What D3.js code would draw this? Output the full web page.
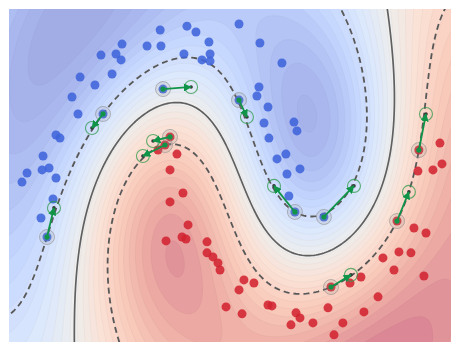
<!DOCTYPE html>
<html><head><meta charset="utf-8">
<script src="https://cdn.jsdelivr.net/npm/d3@7"></script>
<style>body{margin:0;background:#fff}svg{display:block}</style>
</head><body><div id="chart"></div>
<script>
// ---------- data (data units) ----------
const xDomain = [-1.156, 2.078];
const yDomain = [-0.617, 1.109];

const bluePoints = [
[-0.05,1.00],[0.146,1.02],[0.212,0.99],[0.307,0.938],[-0.146,0.917],[-0.044,0.917],
[-0.329,0.927],[-0.483,0.870],[-0.373,0.876],[-0.336,0.845],[0.124,0.876],[0.315,0.876],
[0.256,0.845],[0.315,0.839],[-0.636,0.756],[-0.402,0.772],[-0.527,0.715],[-0.695,0.653],
[-0.651,0.565],[-0.812,0.456],[-0.783,0.440],[-0.907,0.347],[-0.914,0.275],[-0.863,0.285],
[-1.024,0.259],[-1.061,0.212],[-0.812,0.233],[-0.834,0.124],[-0.922,0.026],[0.527,1.031],
[0.680,0.933],[0.841,0.829],[0.673,0.705],[0.658,0.658],[0.739,0.601],[0.710,0.518],
[0.929,0.523],[0.951,0.477],[0.746,0.440],[0.870,0.357],[0.805,0.332],[0.973,0.280],
[0.878,0.254],[0.892,0.140],
[-0.029,0.694],[-0.468,0.565],[0.527,0.637],[0.936,0.057],[1.148,0.031],[-0.878,-0.073]
];
const redPoints = [
[0.022,0.446],[-0.015,0.404],[-0.066,0.378],[0.073,0.357],[0.022,0.275],[0.117,0.155],
[0.022,0.109],[0.154,-0.010],[-0.007,-0.093],[0.110,-0.073],[0.139,-0.083],[0.293,-0.098],
[0.293,-0.155],[0.336,-0.176],[0.373,-0.207],[0.388,-0.244],[0.432,-0.435],[0.563,-0.295],
[0.636,-0.311],[0.527,-0.347],[0.549,-0.471],[0.739,-0.425],[0.768,-0.430],[0.944,-0.466],
[0.973,-0.492],[0.907,-0.528],[1.068,-0.518],[1.178,-0.440],[1.287,-0.518],[1.222,-0.580],
[1.441,-0.461],[1.544,-0.383],[1.339,-0.311],[1.419,-0.280],[1.200,-0.332],[1.580,-0.181],
[1.661,-0.244],[1.697,-0.150],[1.785,-0.155],[1.880,-0.275],[1.807,-0.026],[1.895,-0.052],
[1.683,0.010],[1.836,0.269],[1.946,0.275],[2.012,0.306],[1.997,0.414],[1.843,0.378]
];
// arrows: origin (highlighted point) -> target
const arrowFrom = [
[-0.029,0.694],[-0.468,0.565],[0.022,0.446],[-0.015,0.404],[0.527,0.637],[0.936,0.057],
[1.148,0.031],[1.843,0.378],[1.683,0.010],[-0.878,-0.073],[1.200,-0.332]
];
const arrowTo = [
[0.176,0.705],[-0.549,0.492],[-0.102,0.425],[-0.176,0.347],[0.585,0.549],[0.783,0.192],
[1.368,0.192],[1.895,0.565],[1.770,0.161],[-0.827,0.078],[1.346,-0.269]
];
const svmC = 10, svmGamma = 1.0;
const nLevels = 32;

// ---------- layout ----------
const W = 451, H = 343;
const plot = {x:9, y:9, w:442, h:333};
const xScale = d3.scaleLinear().domain(xDomain).range([plot.x, plot.x+plot.w]);
const yScale = d3.scaleLinear().domain(yDomain).range([plot.y+plot.h, plot.y]);

// ---------- SVM (SMO) ----------
const X = bluePoints.concat(redPoints);
const Y = bluePoints.map(()=>-1).concat(redPoints.map(()=>1));
function kern(a,b){const dx=a[0]-b[0],dy=a[1]-b[1];return Math.exp(-svmGamma*(dx*dx+dy*dy));}
function train(){
  const n=X.length, K=[];
  for(let i=0;i<n;i++){K.push(new Float64Array(n));for(let j=0;j<n;j++)K[i][j]=kern(X[i],X[j]);}
  const a=new Float64Array(n), G=new Float64Array(n).fill(-1), C=svmC;
  for(let it=0;it<200000;it++){
    let Gmax=-Infinity,Gmin=Infinity,i=-1,j=-1;
    for(let t=0;t<n;t++){
      const v=-Y[t]*G[t];
      if((Y[t]===1&&a[t]<C)||(Y[t]===-1&&a[t]>0)){if(v>Gmax){Gmax=v;i=t;}}
      if((Y[t]===-1&&a[t]<C)||(Y[t]===1&&a[t]>0)){if(v<Gmin){Gmin=v;j=t;}}
    }
    if(Gmax-Gmin<1e-5)break;
    const Qij=Y[i]*Y[j]*K[i][j], oi=a[i], oj=a[j];
    if(Y[i]!==Y[j]){
      let q=2+2*Qij; if(q<=0)q=1e-12;
      const d=(-G[i]-G[j])/q, diff=a[i]-a[j];
      a[i]+=d;a[j]+=d;
      if(diff>0){if(a[j]<0){a[j]=0;a[i]=diff;}}else{if(a[i]<0){a[i]=0;a[j]=-diff;}}
      if(diff>0){if(a[i]>C){a[i]=C;a[j]=C-diff;}}else{if(a[j]>C){a[j]=C;a[i]=C+diff;}}
    }else{
      let q=2-2*Qij; if(q<=0)q=1e-12;
      const d=(G[i]-G[j])/q, s=a[i]+a[j];
      a[i]-=d;a[j]+=d;
      if(s>C){if(a[i]>C){a[i]=C;a[j]=s-C;}}else{if(a[j]<0){a[j]=0;a[i]=s;}}
      if(s>C){if(a[j]>C){a[j]=C;a[i]=s-C;}}else{if(a[i]<0){a[i]=0;a[j]=s;}}
    }
    const di=a[i]-oi, dj=a[j]-oj;
    for(let t=0;t<n;t++)G[t]+=Y[t]*Y[i]*K[t][i]*di+Y[t]*Y[j]*K[t][j]*dj;
  }
  let sf=0,nf=0,ub=Infinity,lb=-Infinity;
  for(let t=0;t<n;t++){
    const yg=Y[t]*G[t];
    if(a[t]>=C){if(Y[t]===-1)ub=Math.min(ub,yg);else lb=Math.max(lb,yg);}
    else if(a[t]<=0){if(Y[t]===1)ub=Math.min(ub,yg);else lb=Math.max(lb,yg);}
    else{nf++;sf+=yg;}
  }
  const rho=nf>0?sf/nf:(ub+lb)/2;
  const sv=[];for(let t=0;t<n;t++)if(a[t]>1e-9)sv.push({p:X[t],c:a[t]*Y[t]});
  return p=>{let s=-rho;for(const v of sv)s+=v.c*kern(v.p,p);return s;};
}
const f=train();

// ---------- grid ----------
const step=2, gx0=8, gy0=8, nx=225, ny=171;
const vals=new Float64Array(nx*ny);
for(let j=0;j<ny;j++)for(let i=0;i<nx;i++){
  const px=gx0+i*step, py=gy0+j*step;
  vals[i+j*nx]=f([xScale.invert(px),yScale.invert(py)]);
}
const zmin=d3.min(vals), zmax=d3.max(vals), vmax=Math.max(-zmin,zmax);
const thresholds=d3.range(nLevels+1).map(k=>zmin+k*(zmax-zmin)/nLevels);
const cw=d3.scaleLinear().domain([0,.125,.25,.375,.5,.625,.75,.875,1])
  .range(["#3b4cc0","#5977e3","#8db0fe","#b8d0f9","#dddcdc","#f5c4ad","#f49a7b","#de604d","#b40426"])
  .interpolate(d3.interpolateRgb);
const colorOf=v=>d3.interpolateRgb("#ffffff",cw((v+vmax)/(2*vmax)))(0.5);

const svg=d3.select("#chart").append("svg").attr("width",W).attr("height",H);
svg.append("defs").append("clipPath").attr("id","clip").append("rect")
  .attr("x",plot.x).attr("y",plot.y).attr("width",plot.w).attr("height",plot.h);
svg.select("defs").append("marker").attr("id","ah").attr("viewBox","0 0 10 10")
  .attr("refX",9).attr("refY",5).attr("markerWidth",4.5).attr("markerHeight",4.5).attr("orient","auto")
  .append("path").attr("d","M0,0L10,5L0,10z").attr("fill","#0f9448");

const proj=d3.geoTransform({point:function(x,y){this.stream.point(gx0+(x-0.5)*step,gy0+(y-0.5)*step);}});
const path=d3.geoPath(proj);
const g=svg.append("g").attr("clip-path","url(#clip)");
const conts=d3.contours().size([nx,ny]).thresholds(thresholds.slice(0,-1))(vals);
g.selectAll("path.band").data(conts).join("path").attr("class","band")
  .attr("d",path)
  .attr("fill",(d,k)=>colorOf((thresholds[k]+thresholds[k+1])/2))
  .attr("stroke",(d,k)=>d3.color(colorOf((thresholds[k]+thresholds[k+1])/2)).darker(0.3))
  .attr("stroke-width",0.5).attr("stroke-opacity",0.55);

const lines=d3.contours().size([nx,ny]).thresholds([-1,0,1])(vals);
g.selectAll("path.lvl").data(lines).join("path").attr("class","lvl")
  .attr("d",path).attr("fill","none")
  .attr("stroke",d=>d.value===0?"#606060":"#585858")
  .attr("stroke-width",d=>d.value===0?1.7:1.8)
  .attr("stroke-dasharray",d=>d.value===0?null:"6,4");

// points
g.selectAll("circle.b").data(bluePoints).join("circle").attr("class","b")
  .attr("cx",d=>xScale(d[0])).attr("cy",d=>yScale(d[1])).attr("r",4.5)
  .attr("fill","#3f64db").attr("fill-opacity",0.88);
g.selectAll("circle.r").data(redPoints).join("circle").attr("class","r")
  .attr("cx",d=>xScale(d[0])).attr("cy",d=>yScale(d[1])).attr("r",4.5)
  .attr("fill","#d22331").attr("fill-opacity",0.88);

// halos
g.selectAll("circle.halo").data(arrowFrom).join("circle").attr("class","halo")
  .attr("cx",d=>xScale(d[0])).attr("cy",d=>yScale(d[1])).attr("r",7.5)
  .attr("fill","#888").attr("fill-opacity",0.15).attr("stroke","#888").attr("stroke-opacity",0.55).attr("stroke-width",1);

// target circles
g.selectAll("circle.tgt").data(arrowTo).join("circle").attr("class","tgt")
  .attr("cx",d=>xScale(d[0])).attr("cy",d=>yScale(d[1])).attr("r",6.5)
  .attr("fill","none").attr("stroke","#2f9a4a").attr("stroke-opacity",0.75).attr("stroke-width",1.1);
g.selectAll("circle.tdot").data(arrowTo).join("circle").attr("class","tdot")
  .attr("cx",d=>xScale(d[0])).attr("cy",d=>yScale(d[1])).attr("r",1.8).attr("fill","#333");

// arrows
const arr=arrowFrom.map((s,k)=>[s,arrowTo[k]]);
g.selectAll("line.arr").data(arr).join("line").attr("class","arr")
  .attr("x1",d=>xScale(d[0][0])).attr("y1",d=>yScale(d[0][1]))
  .attr("x2",d=>xScale(d[1][0])).attr("y2",d=>yScale(d[1][1]))
  .attr("stroke","#0f9448").attr("stroke-width",1.8).attr("marker-end","url(#ah)");
g.selectAll("circle.sdot").data(arrowFrom).join("circle").attr("class","sdot")
  .attr("cx",d=>xScale(d[0])).attr("cy",d=>yScale(d[1])).attr("r",2.6).attr("fill","#0f9448");
</script></body></html>
